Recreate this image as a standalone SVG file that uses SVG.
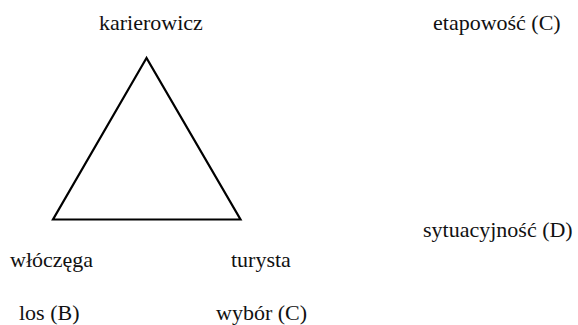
<svg xmlns="http://www.w3.org/2000/svg" width="578" height="325" viewBox="0 0 578 325">
<style>
.t{font-size:22px;fill:#111}
.edge{fill:none;stroke:#000;stroke-width:2.2;stroke-linejoin:miter}
</style>
<rect width="578" height="325" fill="#fff"/>
<g id="connectors">
<polygon class="edge" points="146.5,58 53,219.5 240.5,219.5"/>
</g>
<g font-family="Liberation Serif, Times New Roman, serif">
<g id="node-karierowicz"><text class="t" x="99" y="30">karierowicz</text></g>
<g id="node-wloczega"><text class="t" x="10" y="267">włóczęga</text></g>
<g id="node-turysta"><text class="t" x="231" y="267">turysta</text></g>
<g id="label-los"><text class="t" x="19" y="320">los (B)</text></g>
<g id="label-wybor"><text class="t" x="216" y="320">wybór (C)</text></g>
<g id="label-etapowosc"><text class="t" x="433" y="30">etapowość (C)</text></g>
<g id="label-sytuacyjnosc"><text class="t" x="423" y="237">sytuacyjność (D)</text></g>
</g>
</svg>
